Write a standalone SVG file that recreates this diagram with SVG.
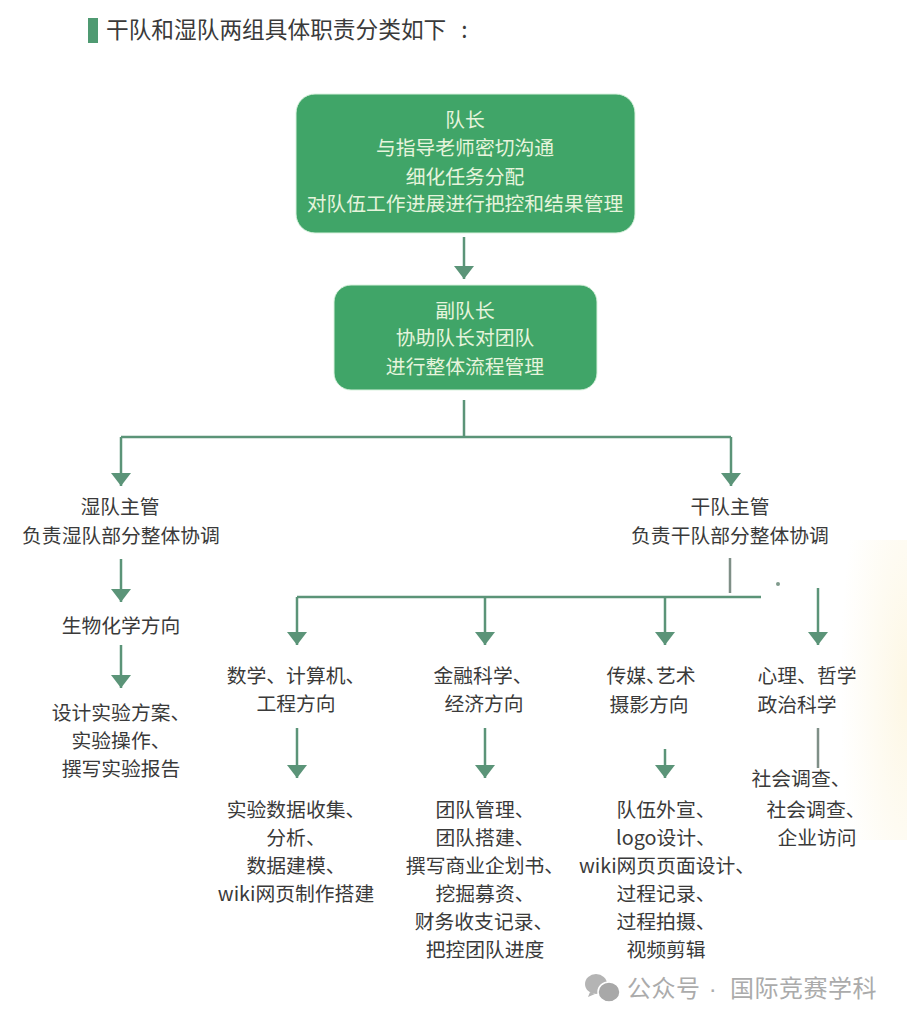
<svg xmlns="http://www.w3.org/2000/svg" width="907" height="1024" viewBox="0 0 907 1024">
<defs>
<radialGradient id="cream" cx="1" cy="0.5" r="1"><stop offset="0" stop-color="#fdf7e4"/><stop offset="1" stop-color="#fdf8e8" stop-opacity="0"/></radialGradient>
<marker id="ah" viewBox="0 0 20 14" markerUnits="userSpaceOnUse" markerWidth="20" markerHeight="14" refX="20" refY="7" orient="auto"><path d="M7 -3L20 7L7 17Z" fill="#5b9478"/></marker>
</defs>
<style>
text{font-family:"Noto Sans CJK SC","Liberation Sans",sans-serif;font-size:19.8px;fill:#3a3a3a;text-anchor:middle}
.w{fill:#e6f4dc}
.s{text-anchor:start}
.box{fill:#40a568;stroke:#d9f2de;stroke-width:1}
.c{fill:none;stroke:#5b9478;stroke-width:2.5}
.a{marker-end:url(#ah)}
.g{stroke:#7f8f87}
.wm{font-size:24px;fill:#ababab;letter-spacing:.5px}
#ah{overflow:visible}
</style>
<rect width="907" height="1024" fill="#ffffff"/>
<rect x="840" y="540" width="67" height="300" fill="url(#cream)"/>
<g id="title"><rect x="88" y="18" width="10" height="25" fill="#4f9a72"/><text class="s" x="106" y="38" style="font-size:22.7px">干队和湿队两组具体职责分类如下<tspan dx="15">:</tspan></text></g>
<g id="connectors">
<path class="c a" d="M464 237V279"/>
<path class="c" d="M464 400V437M121 437H731"/>
<path class="c a" d="M121 437V486"/>
<path class="c a" d="M731 437V486"/>
<path class="c a" d="M121 559V602"/>
<path class="c a" d="M121 645V688"/>
<path class="c g" d="M730 558V593"/>
<path class="c" d="M297 597H761"/>
<path class="c a" d="M297 597V645"/>
<path class="c a" d="M485 597V645"/>
<path class="c a" d="M665 597V645"/>
<path class="c a" d="M818 588V645"/>
<path class="c a" d="M297 728V778"/>
<path class="c a" d="M485 728V778"/>
<path class="c a" d="M665 749V778"/>
<path class="c g" d="M818 728V768"/>
<circle cx="778" cy="584" r="2" fill="#7f9a8c"/>
</g>
<g id="captain"><rect class="box" x="296" y="94" width="339" height="139" rx="19"/>
<text class="w" x="465" y="127">队长</text><text class="w" x="465" y="155">与指导老师密切沟通</text><text class="w" x="465" y="184">细化任务分配</text><text class="w" x="465" y="211">对队伍工作进展进行把控和结果管理</text></g>
<g id="vice"><rect class="box" x="334" y="285" width="263" height="105" rx="17"/>
<text class="w" x="465" y="318">副队长</text><text class="w" x="465" y="345">协助队长对团队</text><text class="w" x="465" y="374">进行整体流程管理</text></g>
<g id="wet-lead"><text x="120" y="514">湿队主管</text><text x="121" y="543">负责湿队部分整体协调</text></g>
<g id="dry-lead"><text x="730" y="514">干队主管</text><text x="730" y="543">负责干队部分整体协调</text></g>
<g id="bio"><text x="121" y="633">生物化学方向</text></g>
<g id="bio-tasks"><text x="121" y="720">设计实验方案、</text><text x="121" y="748">实验操作、</text><text x="121" y="776">撰写实验报告</text></g>
<g id="math"><text x="296" y="683">数学、计算机、</text><text x="296" y="711">工程方向</text></g>
<g id="math-tasks"><text x="296" y="817">实验数据收集、</text><text x="296" y="845">分析、</text><text x="296" y="873">数据建模、</text><text x="296" y="901">wiki网页制作搭建</text></g>
<g id="finance"><text x="483" y="683">金融科学、</text><text x="484" y="711">经济方向</text></g>
<g id="finance-tasks"><text x="485" y="817">团队管理、</text><text x="485" y="845">团队搭建、</text><text x="485" y="873">撰写商业企划书、</text><text x="485" y="901">挖掘募资、</text><text x="484" y="929">财务收支记录、</text><text x="485" y="957">把控团队进度</text></g>
<g id="media"><text x="651" y="683">传媒<tspan style="letter-spacing:-10px">、</tspan>艺术</text><text x="649" y="712">摄影方向</text></g>
<g id="media-tasks"><text x="666" y="817">队伍外宣、</text><text x="666" y="845">logo设计、</text><text x="667" y="873">wiki网页页面设计、</text><text x="666" y="901">过程记录、</text><text x="666" y="929">过程拍摄、</text><text x="666" y="957">视频剪辑</text></g>
<g id="psych"><text x="807" y="683">心理、哲学</text><text x="797" y="712">政治科学</text></g>
<g id="psych-tasks"><text x="801" y="786">社会调查、</text><text x="816" y="817">社会调查、</text><text x="817" y="845">企业访问</text></g>
<g id="watermark">
<ellipse cx="596" cy="984" rx="11" ry="10" fill="#b4b4b4"/><path d="M590 992l-2 5 7-3z" fill="#b4b4b4"/>
<ellipse cx="609" cy="992" rx="11" ry="10" fill="#a8a8a8" stroke="#fff" stroke-width="1.5"/>
<text class="s wm" x="627" y="997">公众号</text>
<text class="wm" x="713" y="997" style="font-family:'Liberation Sans',sans-serif">·</text>
<text class="s wm" x="730" y="997">国际竞赛学科</text>
</g>
</svg>
